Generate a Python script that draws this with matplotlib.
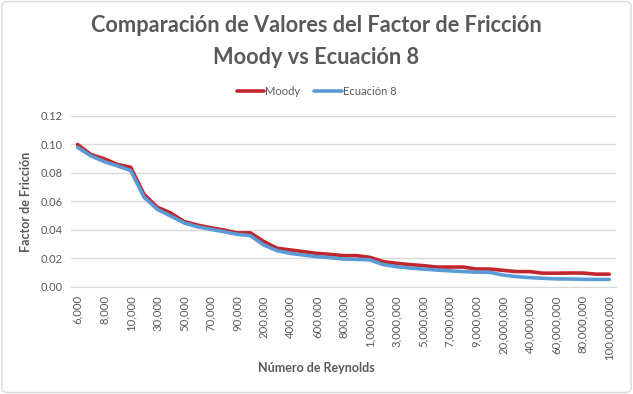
import matplotlib
matplotlib.use("Agg")
import matplotlib.pyplot as plt
from matplotlib.patches import FancyBboxPatch

# Datos
reynolds = [6000, 7000, 8000, 9000,
            10000, 20000, 30000, 40000, 50000, 60000, 70000, 80000, 90000,
            100000, 200000, 300000, 400000, 500000, 600000, 700000, 800000, 900000,
            1000000, 2000000, 3000000, 4000000, 5000000, 6000000, 7000000, 8000000, 9000000,
            10000000, 20000000, 30000000, 40000000, 50000000, 60000000, 70000000, 80000000, 90000000,
            100000000]
moody = [0.100, 0.093, 0.090, 0.086, 0.084, 0.065, 0.056, 0.052, 0.046, 0.0435, 0.0416,
         0.040, 0.038, 0.038, 0.032, 0.0272, 0.026, 0.0248, 0.0236, 0.0229, 0.022, 0.022,
         0.0208, 0.0178, 0.0166, 0.0157, 0.015, 0.014, 0.014, 0.014, 0.0126, 0.0126,
         0.0117, 0.0108, 0.0108, 0.0097, 0.0097, 0.0098, 0.0098, 0.0090, 0.0090]
ecuacion8 = [0.098, 0.092, 0.088, 0.085, 0.0817, 0.063, 0.0545, 0.0498, 0.045, 0.0423, 0.0405,
             0.0388, 0.037, 0.036, 0.0295, 0.0255, 0.0236, 0.0224, 0.0213, 0.0206, 0.0196, 0.0194,
             0.019, 0.0157, 0.0143, 0.0133, 0.0126, 0.0119, 0.0113, 0.0108, 0.0104, 0.0103,
             0.0084, 0.0073, 0.0066, 0.0061, 0.0057, 0.0056, 0.0054, 0.0053, 0.0053]
labels = [f"{r:,}" for r in reynolds]

gris = "#595959"
plt.rcParams['font.family'] = ['Lato', 'DejaVu Sans']

fig = plt.figure(figsize=(6.33, 3.94), dpi=100)
ax = fig.add_axes([0.112, 0.2716, 0.861, 0.434])

x = list(range(len(reynolds)))
ax.plot(x, moody, color='#C0262C', linewidth=2.6, label='Moody', solid_capstyle='round')
ax.plot(x, ecuacion8, color='#5B9BD5', linewidth=2.6, label='Ecuación 8', solid_capstyle='round')

ax.set_xlim(-0.5, len(reynolds) - 0.5)
ax.set_ylim(0, 0.12)
ax.set_yticks([0.0, 0.02, 0.04, 0.06, 0.08, 0.10, 0.12])
ax.set_yticklabels([f"{v:.2f}" for v in ax.get_yticks()], color=gris, fontsize=8)
ax.set_xticks(x[::2])
ax.set_xticklabels(labels[::2], rotation=90, color=gris, fontsize=8.2)
ax.tick_params(axis='both', length=0, pad=6)

ax.grid(axis='y', color='#D9D9D9', linewidth=1)
ax.set_axisbelow(True)
for s in ['top', 'right', 'left']:
    ax.spines[s].set_visible(False)
ax.spines['bottom'].set_color('#D9D9D9')

ax.set_ylabel('Factor de Fricción', fontsize=9, fontweight='bold', color=gris, labelpad=6)
fig.text(0.5, 0.065, 'Número de Reynolds', ha='center', va='center',
         fontsize=9, fontweight='bold', color=gris)

fig.text(0.5, 0.935, 'Comparación de Valores del Factor de Fricción', ha='center', va='center',
         fontsize=15.7, fontweight='bold', color=gris)
fig.text(0.5, 0.855, 'Moody vs Ecuación 8', ha='center', va='center',
         fontsize=15.7, fontweight='bold', color=gris)

fig.legend(loc='center', bbox_to_anchor=(0.5, 0.767), ncol=2, frameon=False,
           fontsize=8, labelcolor=gris, handlelength=2.5, handletextpad=0.1, columnspacing=1.2)

fig.patches.append(FancyBboxPatch((0.003, 0.004), 0.994, 0.992, boxstyle='round,pad=0,rounding_size=0.01',
                                  transform=fig.transFigure, facecolor='none', edgecolor='#D9D9D9',
                                  linewidth=1))

fig.savefig('out.png', dpi=100)
